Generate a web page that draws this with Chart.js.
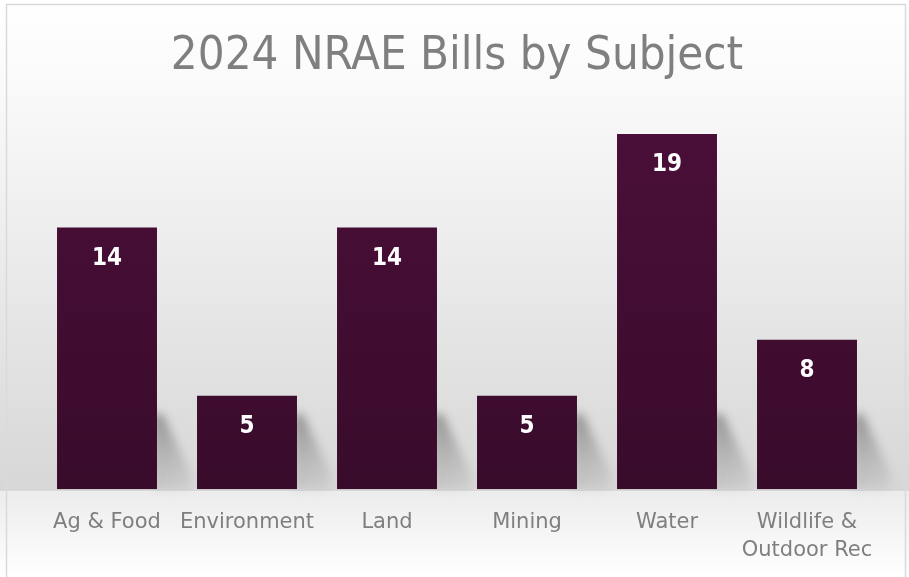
<!DOCTYPE html>
<html>
<head>
<meta charset="utf-8">
<script src="https://cdn.jsdelivr.net/npm/chart.js@4.4.1/dist/chart.umd.min.js"></script>
<style>
  html, body { margin: 0; padding: 0; background: #fff; }
  #wrap { width: 909px; height: 577px; position: relative; }
</style>
</head>
<body>
<div id="wrap"><canvas id="billChart" width="909" height="577"></canvas></div>
<script>
// chart data
const subjects = ['Ag & Food', 'Environment', 'Land', 'Mining', 'Water', ['Wildlife &', 'Outdoor Rec']];
const billCounts = [14, 5, 14, 5, 19, 8];
const chartTitle = '2024 NRAE Bills by Subject';

const FONT = '"DejaVu Sans Condensed", "DejaVu Sans", sans-serif';
const LABEL_FONT = '"DejaVu Sans", sans-serif';

// backdrop: soft wall gradient, floor, and the frame line
const backdrop = {
    id: 'backdrop',
    beforeDraw(chart) {
        const ctx = chart.ctx;
        const area = chart.chartArea;
        ctx.save();
        let g = ctx.createLinearGradient(0, 0, 0, area.bottom);
        g.addColorStop(0, '#ffffff');
        g.addColorStop(0.2, '#f9f9f9');
        g.addColorStop(1, '#d7d7d7');
        ctx.fillStyle = g;
        ctx.fillRect(0, 0, chart.width, area.bottom + 2);
        let f = ctx.createLinearGradient(0, area.bottom + 2, 0, chart.height);
        f.addColorStop(0, '#ececec');
        f.addColorStop(1, '#ffffff');
        ctx.fillStyle = f;
        ctx.fillRect(0, area.bottom + 2, chart.width, chart.height - area.bottom);
        ctx.strokeStyle = '#d9d9d9';
        ctx.lineWidth = 1.5;
        ctx.strokeRect(6.5, 4.5, chart.width - 10, chart.height + 10);
        ctx.restore();
    }
};

// slanted shadow behind each bar
const barShadow = {
    id: 'barShadow',
    beforeDatasetsDraw(chart) {
        const ctx = chart.ctx;
        const bars = chart.getDatasetMeta(0).data;
        ctx.save();
        ctx.filter = 'blur(5px)';
        bars.forEach(bar => {
            const right = bar.x + bar.width / 2;
            const bottom = bar.base;
            const h = Math.min(75, bottom - bar.y);
            const g = ctx.createLinearGradient(right, bottom - h, right + 35, bottom);
            g.addColorStop(0, 'rgba(70,70,70,0.5)');
            g.addColorStop(1, 'rgba(120,120,120,0.08)');
            ctx.fillStyle = g;
            ctx.beginPath();
            ctx.moveTo(right - 4, bottom - h);
            ctx.lineTo(right + 6, bottom - h);
            ctx.lineTo(right + 34, bottom - 14);
            ctx.lineTo(right + 34, bottom);
            ctx.lineTo(right - 4, bottom);
            ctx.closePath();
            ctx.fill();
        });
        ctx.restore();
    }
};

// value labels inside the top of each bar
const valueLabels = {
    id: 'valueLabels',
    afterDatasetsDraw(chart) {
        const ctx = chart.ctx;
        const bars = chart.getDatasetMeta(0).data;
        ctx.save();
        ctx.fillStyle = '#ffffff';
        ctx.font = 'bold 24px ' + FONT;
        ctx.textAlign = 'center';
        ctx.textBaseline = 'middle';
        bars.forEach((bar, i) => {
            ctx.fillText(billCounts[i], bar.x, bar.y + 31);
        });
        ctx.restore();
    }
};

const ctx = document.getElementById('billChart').getContext('2d');
const chart = new Chart(ctx, {
    type: 'bar',
    data: {
        labels: subjects,
        datasets: [{
            label: 'Bills',
            data: billCounts,
            backgroundColor: function (c) {
                const area = c.chart.chartArea;
                if (!area) return '#440e34';
                const g = c.chart.ctx.createLinearGradient(0, area.top, 0, area.bottom);
                g.addColorStop(0, '#4b0f39');
                g.addColorStop(1, '#390b2b');
                return g;
            },
            borderWidth: 0,
            barPercentage: 0.714,
            categoryPercentage: 1
        }]
    },
    options: {
        responsive: false,
        animation: false,
        layout: { padding: { top: 10, left: 37, right: 32, bottom: -7 } },
        plugins: {
            legend: { display: false },
            tooltip: { enabled: false },
            title: {
                display: true,
                text: chartTitle,
                color: '#7f7f7f',
                font: { family: FONT, size: 47, weight: 'normal' },
                padding: { top: 19, bottom: 30 }
            }
        },
        scales: {
            x: {
                grid: { display: false, drawTicks: false },
                border: { display: false },
                ticks: {
                    color: '#7f7f7f',
                    padding: 19,
                    font: { family: LABEL_FONT, size: 21, lineHeight: 1.35 },
                    maxRotation: 0
                }
            },
            y: {
                display: false,
                min: 0,
                max: 20
            }
        }
    },
    plugins: [backdrop, barShadow, valueLabels]
});
</script>
</body>
</html>
